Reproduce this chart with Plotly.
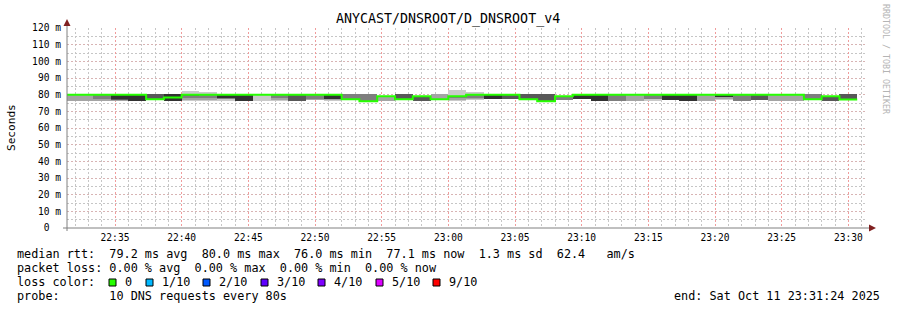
import plotly.graph_objects as go
import pandas as pd

# ---------------- data ----------------
title_text = "ANYCAST/DNSROOT/D_DNSROOT_v4"
first_step_start = "2025-10-11 22:30:40"
step_seconds = 80
axis_start = "2025-10-11 22:31:24"
axis_end = "2025-10-11 23:31:24"

# median rtt per 80 s step (ms)
median_ms = [80, 80, 80, 80, 80, 77.2, 78.3, 80, 80, 80,
             80, 80, 80, 80, 80, 80, 77.2, 76.0, 79.0, 77.2,
             79.0, 77.2, 79.0, 80, 80, 80, 77.2, 76.0, 79.0, 80,
             80, 80, 80, 80, 80, 80, 80, 80, 80, 80,
             80, 80, 77.2, 79.0, 77.1]

# 10 sorted ping rtts per step (ms)
pings_ms = [
    [76.5, 76.5, 80, 80, 80, 80, 80, 80, 80, 80],
    [76.5, 76.5, 80, 80, 80, 80, 80, 80, 80, 80],
    [76.5, 76.5, 77.5, 80, 80, 80, 80, 80, 80, 80],
    [76.5, 76.5, 77, 77, 77.5, 80, 80, 80, 80, 80],
    [76, 76, 76, 76, 76, 80, 80, 80, 80, 80],
    [77, 77, 77, 77, 77, 77, 80.5, 80.5, 80.5, 80.5],
    [76.5, 76.5, 76.5, 76.5, 76.5, 80.5, 80.5, 80.5, 80.5, 80.5],
    [76.5, 77, 78, 79.5, 80, 80, 80, 80, 80, 82.5],
    [76.5, 77, 78, 80, 80, 80, 80, 80, 80, 81.5],
    [76.5, 77.5, 77.5, 78, 78, 80, 80, 80, 80, 80],
    [76.5, 76.5, 76.5, 76.5, 76.5, 80, 80, 80, 80, 80],
    [76.5, 80, 80, 80, 80, 80, 80, 80, 80, 80],
    [76.5, 77, 78, 80, 80, 80, 80, 80, 80, 80],
    [76.5, 76.5, 76.5, 76.5, 80, 80, 80, 80, 80, 80],
    [77, 77, 77.5, 80, 80, 80, 80, 80, 80, 80],
    [76.5, 77, 77.5, 77.5, 77.5, 80, 80, 80, 80, 80],
    [77, 77, 77, 77, 77, 77, 77, 80.5, 80.5, 80.5],
    [76, 76, 76, 76, 76, 76, 76, 80.5, 80.5, 80.5],
    [76.5, 76.5, 79, 79, 79, 79, 79, 79, 79, 79],
    [77, 77, 77, 77, 77, 77, 80.5, 80.5, 80.5, 80.5],
    [76.5, 76.5, 76.5, 76.5, 79, 79, 79, 79, 79, 79],
    [77, 77, 77, 77, 77, 77, 77, 77, 80.5, 80.5],
    [76.5, 77, 78, 79, 79, 79, 79, 79, 79, 83],
    [77, 77.5, 78, 80, 80, 80, 80, 80, 80, 81.5],
    [77.5, 77.5, 77.5, 77.5, 77.5, 80, 80, 80, 80, 80],
    [77.5, 77.5, 77.5, 77.5, 80, 80, 80, 80, 80, 80],
    [77, 77, 77, 77, 77, 77, 80.5, 80.5, 80.5, 80.5],
    [76, 76, 76, 76, 76, 76, 80.5, 80.5, 80.5, 80.5],
    [77, 77, 77, 79, 79, 79, 79, 79, 79, 79],
    [77.5, 77.5, 77.5, 77.5, 77.5, 80, 80, 80, 80, 80],
    [76.5, 76.5, 76.5, 76.5, 76.5, 80, 80, 80, 80, 80],
    [76.5, 76.5, 76.5, 80, 80, 80, 80, 80, 80, 80],
    [76.5, 76.5, 80, 80, 80, 80, 80, 80, 80, 80],
    [76.5, 77.5, 77.5, 80, 80, 80, 80, 80, 80, 80],
    [77, 77, 77, 77, 77, 80, 80, 80, 80, 80],
    [76.5, 76.5, 76.5, 76.5, 76.5, 80, 80, 80, 80, 80],
    [76.5, 76.5, 80, 80, 80, 80, 80, 80, 80, 80],
    [77, 77.5, 78.5, 78.5, 79, 80, 80, 80, 80, 80],
    [76.5, 76.5, 76.5, 80, 80, 80, 80, 80, 80, 80],
    [77, 77, 77, 77, 80, 80, 80, 80, 80, 80],
    [76.5, 76.5, 80, 80, 80, 80, 80, 80, 80, 80],
    [76.5, 76.5, 80, 80, 80, 80, 80, 80, 80, 80],
    [77, 77, 77, 77, 77, 77, 77, 80.3, 80.3, 80.3],
    [76.5, 76.5, 76.5, 76.5, 79, 79, 79, 79, 79, 79],
    [77, 77, 77, 77, 77, 77, 80.3, 80.3, 80.3, 80.3],
]

y_tick_vals = [0, 10, 20, 30, 40, 50, 60, 70, 80, 90, 100, 110, 120]
y_tick_text = ["0\u00a0\u00a0", "10 m", "20 m", "30 m", "40 m", "50 m", "60 m", "70 m",
               "80 m", "90 m", "100 m", "110 m", "120 m"]

smoke_colors = ["#cacaca", "#a4a4a4", "#7e7e7e", "#585858", "#323232"]
median_color = "#26ff00"

legend_rows = [
    "median rtt:  79.2 ms avg  80.0 ms max  76.0 ms min  77.1 ms now  1.3 ms sd  62.4   am/s",
    "packet loss: 0.00 % avg  0.00 % max  0.00 % min  0.00 % now",
    "loss color:",
    "probe:       10 DNS requests every 80s",
]
loss_labels = ["0", "1/10", "2/10", "3/10", "4/10", "5/10", "9/10"]
loss_colors = ["#26ff00", "#00b8ff", "#0059ff", "#5e00ff", "#7e00ff", "#dd00ff", "#ff0000"]
end_text = "end: Sat Oct 11 23:31:24 2025"
y_title = "Seconds"
credit_text = "RRDTOOL / TOBI OETIKER"

# ---------------- layout geometry (pixels) ----------------
W, H = 897, 310
PL, PT, PW, PH = 67, 28, 800, 200


def fx(px):
    return (px - PL) / PW


def fy(py):
    return (PT + PH - py) / PH


mono = "DejaVu Sans Mono"

starts = pd.date_range(first_step_start, periods=len(median_ms), freq=f"{step_seconds}s")
centers = starts + pd.Timedelta(seconds=step_seconds / 2)

fig = go.Figure()

for i in range(5):
    base = [p[i] for p in pings_ms]
    height = [p[9 - i] - p[i] for p in pings_ms]
    fig.add_trace(go.Bar(
        x=centers, y=height, base=base, width=step_seconds * 1000,
        marker=dict(color=smoke_colors[i], line=dict(width=0)),
        showlegend=False, hoverinfo="skip",
    ))

line_x = list(starts) + [starts[-1] + pd.Timedelta(seconds=step_seconds)]
line_y = list(median_ms) + [median_ms[-1]]
fig.add_trace(go.Scatter(
    x=line_x, y=line_y, mode="lines", line=dict(color=median_color, width=2, shape="hv"),
    showlegend=False, hoverinfo="skip",
))

grid_minor = "#c6c6c6"
grid_major_x = "#f09c9c"
grid_major_y = "#d8b4b4"

fig.update_layout(
    width=W, height=H,
    margin=dict(l=PL, r=W - PL - PW, t=PT, b=H - PT - PH, pad=0),
    paper_bgcolor="#ffffff", plot_bgcolor="#ffffff",
    barmode="overlay", bargap=0,
    showlegend=False,
    xaxis=dict(
        type="date", range=[axis_start, axis_end],
        tick0="2025-10-11 22:35:00", dtick=300000, tickformat="%H:%M",
        showgrid=True, gridcolor=grid_major_x, griddash="2px,2px", gridwidth=1,
        minor=dict(dtick=60000, tick0="2025-10-11 22:35:00", showgrid=True,
                   gridcolor=grid_minor, griddash="2px,2px", gridwidth=1),
        showline=False, zeroline=False, ticks="",
        tickfont=dict(family=mono, size=9.6, color="#000000"),
        ticklabelstandoff=2,
    ),
    yaxis=dict(
        range=[0, 120], tickvals=y_tick_vals, ticktext=y_tick_text,
        showgrid=True, gridcolor=grid_major_y, griddash="2px,2px", gridwidth=1,
        minor=dict(dtick=5, tick0=0, showgrid=True,
                   gridcolor=grid_minor, griddash="2px,2px", gridwidth=1),
        showline=False, zeroline=False, ticks="",
        tickfont=dict(family=mono, size=9.6, color="#000000"),
        ticklabelstandoff=5,
    ),
)

axis_color = "#808080"
arrow_color = "#802020"
shapes = [
    dict(type="line", xref="paper", yref="paper", x0=fx(63), x1=fx(871), y0=fy(228), y1=fy(228),
         line=dict(color=axis_color, width=1)),
    dict(type="line", xref="paper", yref="paper", x0=fx(67), x1=fx(67), y0=fy(231), y1=fy(22),
         line=dict(color=axis_color, width=1)),
    dict(type="path", xref="paper", yref="paper",
         path=f"M {fx(63.5)} {fy(26)} L {fx(70.5)} {fy(26)} L {fx(67)} {fy(19)} Z",
         fillcolor=arrow_color, line=dict(width=0)),
    dict(type="path", xref="paper", yref="paper",
         path=f"M {fx(869)} {fy(224.5)} L {fx(869)} {fy(231.5)} L {fx(876)} {fy(228)} Z",
         fillcolor=arrow_color, line=dict(width=0)),
]

box_x = [109, 146, 203, 261, 318, 376, 433]
for bx, col in zip(box_x, loss_colors):
    shapes.append(dict(type="rect", xref="paper", yref="paper",
                       x0=fx(bx), x1=fx(bx + 7), y0=fy(286), y1=fy(279),
                       fillcolor=col, line=dict(color="#000000", width=1)))

annotations = [
    dict(text=title_text, x=fx(448), y=fy(19), xref="paper", yref="paper",
         xanchor="center", yanchor="middle", showarrow=False,
         font=dict(family=mono, size=13.3, color="#000000")),
    dict(text=y_title, x=fx(11), y=fy(127), xref="paper", yref="paper", textangle=-90,
         xanchor="center", yanchor="middle", showarrow=False,
         font=dict(family=mono, size=11.1, color="#000000")),
    dict(text=credit_text, x=fx(886), y=fy(59), xref="paper", yref="paper", textangle=90,
         xanchor="center", yanchor="middle", showarrow=False,
         font=dict(family=mono, size=8.3, color="#b4b4b4")),
    dict(text=end_text.replace(" ", "\u00a0"), x=fx(882), y=fy(296), xref="paper", yref="paper",
         xanchor="right", yanchor="middle", showarrow=False,
         font=dict(family=mono, size=11.8, color="#000000")),
]

row_y = [254, 268, 282, 296]
for txt, ry in zip(legend_rows, row_y):
    annotations.append(dict(text=txt.replace(" ", "\u00a0"), x=fx(15), y=fy(ry),
                            xref="paper", yref="paper", xanchor="left", yanchor="middle",
                            showarrow=False, font=dict(family=mono, size=11.8, color="#000000")))
for bx, lab in zip(box_x, loss_labels):
    annotations.append(dict(text=lab, x=fx(bx + 14), y=fy(282), xref="paper", yref="paper",
                            xanchor="left", yanchor="middle", showarrow=False,
                            font=dict(family=mono, size=11.8, color="#000000")))

fig.update_layout(shapes=shapes, annotations=annotations)

fig.write_html("out.html")
